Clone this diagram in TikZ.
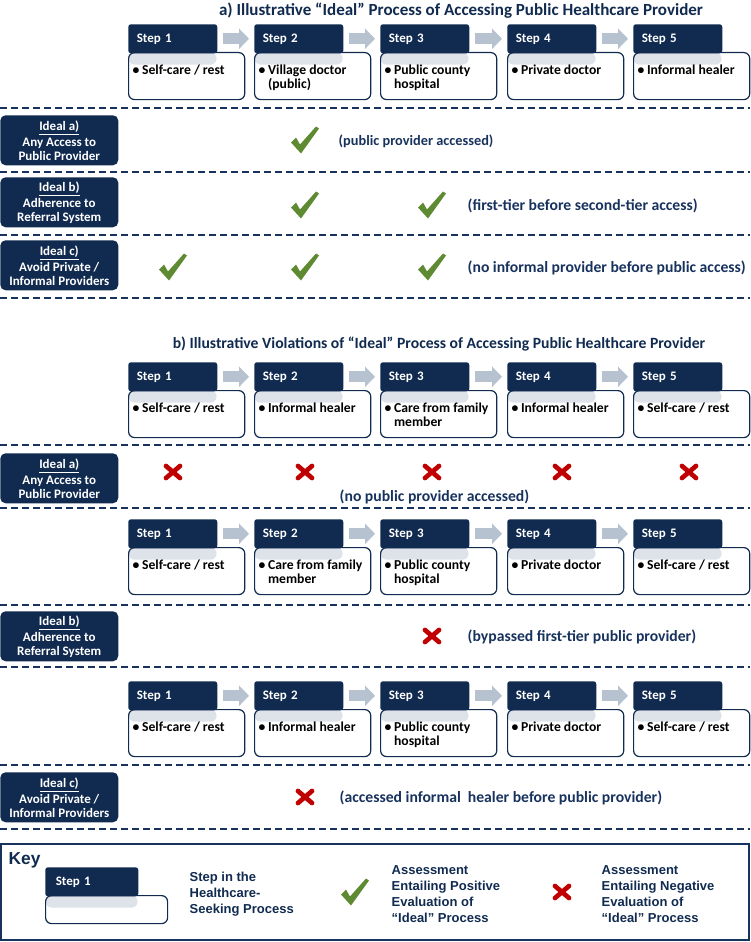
\documentclass[tikz,border=0pt]{standalone}
\usepackage{fontspec}
\setmainfont{Carlito}
\newfontfamily\keyfont{Liberation Sans}
\usetikzlibrary{arrows.meta}
\definecolor{navy}{RGB}{16,42,80}
\definecolor{inknavy}{RGB}{24,50,94}
\definecolor{tickgreen}{RGB}{94,138,50}
\definecolor{crossred}{RGB}{192,0,0}
\definecolor{flowgray}{RGB}{182,194,208}
\definecolor{bandgray}{RGB}{222,226,233}
\newcommand\bitem[1]{\textbullet\hspace{2pt}\parbox[t]{74pt}{\raggedright #1}}

\begin{document}
\begin{tikzpicture}[x=0.75pt,y=-0.75pt,
  every node/.style={font=\bfseries\fontsize{9.75pt}{10.5pt}\selectfont},
  head/.style={anchor=north west, fill=navy, text=white, rounded corners=2pt,
    minimum width=66.75pt, minimum height=21.75pt, text width=54pt, inner xsep=6pt, align=left},
  body/.style={anchor=north west, draw=navy, line width=0.9pt, fill=white, rounded corners=4.5pt,
    minimum width=87pt, minimum height=35.25pt, inner xsep=3pt, inner ysep=4pt, text height=12pt, text depth=15pt,
    font=\bfseries\fontsize{10.25pt}{10.5pt}\selectfont,
    path picture={\fill[bandgray] (path picture bounding box.north west) rectangle ++(#1,-9pt);}},
  body/.default=66pt,
  flow/.style={draw=flowgray, line width=8.25pt, -{Triangle[width=15pt,length=7.5pt]},
    shorten <=3.75pt, shorten >=3.75pt},
  ideal/.style={anchor=north west, fill=navy, text=white, rounded corners=4pt,
    minimum width=88.5pt, minimum height=37.5pt, align=center, inner sep=2pt},
  note/.style={anchor=west, text=inknavy, font=\bfseries\fontsize{11.75pt}{14pt}\selectfont},
  title/.style={text=navy, font=\bfseries\fontsize{12.75pt}{14pt}\selectfont},
  divider/.style={draw=inknavy, line width=1.1pt, dash pattern=on 5.25pt off 3pt},
  keytext/.style={anchor=west, align=left, text=navy, font=\keyfont\bfseries\fontsize{9.75pt}{12pt}\selectfont},
  tick/.pic={\fill[tickgreen] (-14,2.5) -- (-9,-2.5) -- (-5,4.5) -- (11,-13.5) -- (14,-11.5) -- (-4,13.5) -- cycle;},
  cross/.pic={\draw[crossred, line width=3.5pt, line cap=round] (-7,-6) -- (7,6) (-7,6) -- (7,-6);}
]
\useasboundingbox (0,0) rectangle (750,942);

% a) ideal process
\node[title] (ttla) at (461,11) {a) Illustrative “Ideal” Process of Accessing Public Healthcare Provider};
\node[body] (ia1b) at (128,52) {\bitem{Self-care / rest}};
\node[body] (ia2b) at (254,52) {\bitem{Village doctor\\(public)}};
\node[body] (ia3b) at (380,52) {\bitem{Public county\\hospital}};
\node[body] (ia4b) at (507,52) {\bitem{Private doctor}};
\node[body] (ia5b) at (633,52) {\bitem{Informal healer}};
\node[head] (ia1) at (128,24) {Step 1};
\node[head] (ia2) at (254,24) {Step 2};
\node[head] (ia3) at (380,24) {Step 3};
\node[head] (ia4) at (507,24) {Step 4};
\node[head] (ia5) at (633,24) {Step 5};
\draw[flow] (ia1) -- (ia2);
\draw[flow] (ia2) -- (ia3);
\draw[flow] (ia3) -- (ia4);
\draw[flow] (ia4) -- (ia5);

\draw[divider] (0,108) -- (750,108);
\node[ideal] (ida) at (0,115) {\underline{Ideal a)}\\[1.5pt]Any Access to\\Public Provider};
\pic (tka2) at (305,140) {tick};
\node[note, font=\bfseries\fontsize{10.75pt}{14pt}\selectfont] (nta) at (334,141) {(public provider accessed)};
\draw[divider] (0,172) -- (750,172);
\node[ideal] (idb) at (0,177) {\underline{Ideal b)}\\[1.5pt]Adherence to\\Referral System};
\pic (tkb2) at (305,205) {tick};
\pic (tkb3) at (432,205) {tick};
\node[note] (ntb) at (463,206) {(first-tier before second-tier access)};
\draw[divider] (0,235) -- (750,235);
\node[ideal] (idc) at (0,240) {\underline{Ideal c)}\\[1.5pt]Avoid Private /\\Informal Providers};
\pic (tkc1) at (173,267) {tick};
\pic (tkc2) at (305,267) {tick};
\pic (tkc3) at (432,267) {tick};
\node[note] (ntc) at (463,268) {(no informal provider before public access)};
\draw[divider] (0,298) -- (750,298);

% b) violations
\node[title, font=\bfseries\fontsize{11.75pt}{14pt}\selectfont] (ttlb) at (439,344) {b) Illustrative Violations of “Ideal” Process of Accessing Public Healthcare Provider};
\node[body] (va1b) at (128,390) {\bitem{Self-care / rest}};
\node[body] (va2b) at (254,390) {\bitem{Informal healer}};
\node[body] (va3b) at (380,390) {\bitem{Care from family\\member}};
\node[body] (va4b) at (507,390) {\bitem{Informal healer}};
\node[body] (va5b) at (633,390) {\bitem{Self-care / rest}};
\node[head] (va1) at (128,362) {Step 1};
\node[head] (va2) at (254,362) {Step 2};
\node[head] (va3) at (380,362) {Step 3};
\node[head] (va4) at (507,362) {Step 4};
\node[head] (va5) at (633,362) {Step 5};
\draw[flow] (va1) -- (va2);
\draw[flow] (va2) -- (va3);
\draw[flow] (va3) -- (va4);
\draw[flow] (va4) -- (va5);

\draw[divider] (0,445) -- (750,445);
\node[ideal] (vida) at (0,453) {\underline{Ideal a)}\\[1.5pt]Any Access to\\Public Provider};
\pic (xa1) at (173,472) {cross};
\pic (xa2) at (305,472) {cross};
\pic (xa3) at (432,472) {cross};
\pic (xa4) at (562,472) {cross};
\pic (xa5) at (689,472) {cross};
\node[note] (nva) at (335,497) {(no public provider accessed)};
\draw[divider] (0,508) -- (750,508);

\node[body] (vb1b) at (128,547) {\bitem{Self-care / rest}};
\node[body] (vb2b) at (254,547) {\bitem{Care from family\\member}};
\node[body] (vb3b) at (380,547) {\bitem{Public county\\hospital}};
\node[body] (vb4b) at (507,547) {\bitem{Private doctor}};
\node[body] (vb5b) at (633,547) {\bitem{Self-care / rest}};
\node[head] (vb1) at (128,519) {Step 1};
\node[head] (vb2) at (254,519) {Step 2};
\node[head] (vb3) at (380,519) {Step 3};
\node[head] (vb4) at (507,519) {Step 4};
\node[head] (vb5) at (633,519) {Step 5};
\draw[flow] (vb1) -- (vb2);
\draw[flow] (vb2) -- (vb3);
\draw[flow] (vb3) -- (vb4);
\draw[flow] (vb4) -- (vb5);

\draw[divider] (0,605) -- (750,605);
\node[ideal] (vidb) at (0,611) {\underline{Ideal b)}\\[1.5pt]Adherence to\\Referral System};
\pic (xb3) at (432,636) {cross};
\node[note] (nvb) at (463,637) {(bypassed first-tier public provider)};
\draw[divider] (0,667) -- (750,667);

\node[body] (vc1b) at (128,709) {\bitem{Self-care / rest}};
\node[body] (vc2b) at (254,709) {\bitem{Informal healer}};
\node[body] (vc3b) at (380,709) {\bitem{Public county\\hospital}};
\node[body] (vc4b) at (507,709) {\bitem{Private doctor}};
\node[body] (vc5b) at (633,709) {\bitem{Self-care / rest}};
\node[head] (vc1) at (128,681) {Step 1};
\node[head] (vc2) at (254,681) {Step 2};
\node[head] (vc3) at (380,681) {Step 3};
\node[head] (vc4) at (507,681) {Step 4};
\node[head] (vc5) at (633,681) {Step 5};
\draw[flow] (vc1) -- (vc2);
\draw[flow] (vc2) -- (vc3);
\draw[flow] (vc3) -- (vc4);
\draw[flow] (vc4) -- (vc5);

\draw[divider] (0,765) -- (750,765);
\node[ideal] (vidc) at (0,772) {\underline{Ideal c)}\\[1.5pt]Avoid Private /\\Informal Providers};
\pic (xc2) at (305,797) {cross};
\node[note] (nvc) at (335,798) {(accessed informal\ \ healer before public provider)};
\draw[divider] (0,829) -- (750,829);

% key
\draw[draw=inknavy, line width=1.2pt] (1,844) rectangle (749,940);
\node[anchor=west, text=navy, font=\keyfont\bfseries\fontsize{13pt}{14pt}\selectfont] (keyt) at (4,860) {Key};
\node[body=69pt, minimum width=91.5pt, minimum height=21pt, text height=0pt, text depth=0pt] (kb) at (45,895) {};
\node[head, minimum width=69.75pt] (kh) at (45,867) {Step 1};
\node[keytext] (kt1) at (185,894) {Step in the\\Healthcare-\\Seeking Process};
\pic (ktk) at (355,892) {tick};
\node[keytext] (kt2) at (387,894) {Assessment\\Entailing Positive\\Evaluation of\\“Ideal” Process};
\pic (kx) at (562,892) {cross};
\node[keytext] (kt3) at (597,894) {Assessment\\Entailing Negative\\Evaluation of\\“Ideal” Process};
\end{tikzpicture}
\end{document}
